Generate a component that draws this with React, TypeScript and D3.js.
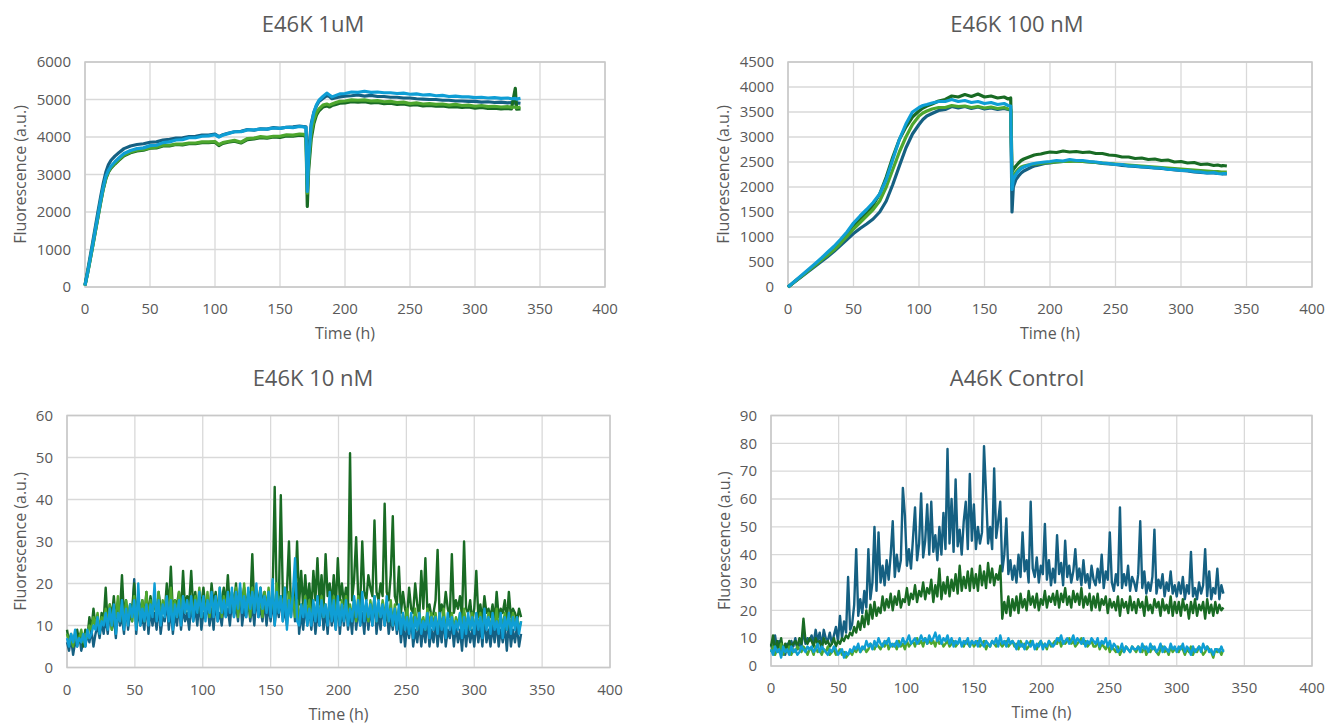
import React, { useEffect, useRef } from "react";
import * as d3 from "d3";

// Office theme colours used by the four replicate wells
const seriesColors = ["#156082", "#196B24", "#4EA72E", "#0F9ED5"];

// ---- top panels: sampled hours (denser around the fast rise and the drop) ----
const hoursTop = [
  0, 2, 4, 6, 8, 10, 12, 14, 16, 18,
  20, 23, 26, 30, 35, 40, 45, 50, 55, 60,
  65, 70, 75, 80, 85, 90, 95, 100, 103, 106,
  110, 115, 120, 125, 130, 135, 140, 145, 150, 155,
  160, 165, 168, 170, 171, 172, 174, 176, 178, 180,
  183, 186, 188, 190, 193, 196, 200, 205, 210, 215,
  220, 225, 230, 235, 240, 245, 250, 255, 260, 265,
  270, 275, 280, 285, 290, 295, 300, 305, 310, 315,
  320, 325, 328, 331, 332, 335,
];

// E46K 1uM
const uM1Well1 = [
  60, 430, 820, 1210, 1610, 2010, 2400, 2760, 3060, 3260,
  3380, 3490, 3580, 3690, 3760, 3800, 3820, 3860, 3870, 3920,
  3940, 3970, 3980, 4010, 4020, 4050, 4050, 4080, 4010, 4060,
  4100, 4140, 4150, 4200, 4180, 4220, 4210, 4250, 4230, 4260,
  4270, 4290, 4280, 4270, 2750, 3600, 4350, 4650, 4830, 4950,
  5030, 5100, 5080, 5020, 5050, 5070, 5090, 5100, 5120, 5090,
  5110, 5080, 5080, 5060, 5060, 5040, 5040, 5020, 5010, 5000,
  5000, 4980, 4980, 4960, 4960, 4950, 4950, 4930, 4940, 4920,
  4930, 4910, 4920, 4900, 4910, 4900,
];
const uM1Well2 = [
  40, 370, 730, 1100, 1480, 1860, 2240, 2600, 2880, 3060,
  3170, 3280, 3380, 3500, 3580, 3630, 3650, 3700, 3710, 3760,
  3760, 3800, 3790, 3820, 3820, 3850, 3850, 3860, 3770, 3830,
  3860, 3890, 3840, 3930, 3950, 3980, 3970, 4000, 3990, 4030,
  4020, 4050, 4040, 4010, 2150, 3100, 3950, 4350, 4580, 4700,
  4800, 4830, 4800, 4840, 4870, 4900, 4910, 4940, 4930, 4940,
  4910, 4920, 4890, 4900, 4870, 4880, 4850, 4860, 4830, 4840,
  4820, 4830, 4800, 4810, 4790, 4800, 4770, 4790, 4760, 4770,
  4750, 4760, 4750, 5300, 4740, 4750,
];
const uM1Well3 = [
  40, 370, 740, 1110, 1500, 1880, 2260, 2620, 2900, 3080,
  3190, 3300, 3400, 3520, 3600, 3650, 3670, 3710, 3730, 3780,
  3780, 3810, 3810, 3840, 3840, 3870, 3870, 3880, 3800, 3850,
  3880, 3910, 3860, 3960, 3970, 4010, 3990, 4020, 4020, 4060,
  4050, 4080, 4070, 4050, 2500, 3300, 4100, 4450, 4650, 4750,
  4850, 4880, 4850, 4880, 4920, 4950, 4960, 4990, 4980, 4990,
  4960, 4970, 4940, 4950, 4920, 4930, 4890, 4910, 4880, 4890,
  4870, 4880, 4850, 4870, 4840, 4850, 4820, 4840, 4810, 4820,
  4800, 4810, 4790, 4800, 4780, 4800,
];
const uM1Well4 = [
  40, 380, 760, 1140, 1530, 1910, 2300, 2650, 2940, 3110,
  3220, 3340, 3440, 3560, 3640, 3690, 3710, 3770, 3780, 3850,
  3870, 3920, 3930, 3980, 3980, 4020, 4030, 4060, 4000, 4050,
  4090, 4140, 4140, 4190, 4190, 4210, 4210, 4240, 4230, 4260,
  4250, 4280, 4270, 4250, 2550, 3400, 4300, 4650, 4850, 4980,
  5080, 5170, 5120, 5070, 5110, 5150, 5160, 5200, 5190, 5220,
  5190, 5200, 5180, 5180, 5160, 5170, 5140, 5150, 5120, 5130,
  5100, 5110, 5080, 5090, 5070, 5070, 5050, 5060, 5040, 5050,
  5030, 5040, 5020, 5030, 5010, 5030,
];

// E46K 100 nM
const nM100Well1 = [
  0, 40, 80, 120, 160, 200, 240, 280, 320, 360,
  400, 460, 520, 600, 710, 830, 950, 1070, 1170, 1260,
  1360, 1500, 1720, 2050, 2420, 2780, 3060, 3250, 3350, 3420,
  3470, 3530, 3550, 3610, 3580, 3610, 3570, 3600, 3560, 3580,
  3550, 3570, 3550, 3540, 1500, 2000, 2150, 2220, 2280, 2320,
  2360, 2400, 2420, 2430, 2450, 2470, 2480, 2500, 2510, 2520,
  2520, 2510, 2500, 2490, 2470, 2460, 2450, 2430, 2420, 2410,
  2400, 2390, 2380, 2370, 2360, 2340, 2330, 2320, 2300, 2290,
  2280, 2280, 2270, 2270, 2260, 2260,
];
const nM100Well2 = [
  0, 42, 85, 128, 170, 212, 255, 298, 340, 382,
  425, 490, 555, 650, 770, 910, 1050, 1210, 1350, 1490,
  1640, 1860, 2200, 2600, 2950, 3200, 3400, 3520, 3580, 3620,
  3660, 3720, 3750, 3820, 3800, 3850, 3810, 3860, 3800, 3820,
  3780, 3800, 3760, 3780, 2300, 2350, 2420, 2480, 2530, 2560,
  2590, 2620, 2640, 2650, 2660, 2680, 2700, 2690, 2720, 2700,
  2710, 2690, 2700, 2670, 2670, 2640, 2630, 2600, 2600, 2570,
  2580, 2550, 2560, 2530, 2540, 2500, 2510, 2480, 2490, 2450,
  2460, 2430, 2440, 2420, 2430, 2420,
];
const nM100Well3 = [
  0, 42, 84, 126, 168, 210, 252, 294, 336, 378,
  420, 485, 550, 630, 740, 870, 1010, 1160, 1290, 1420,
  1550, 1720, 2000, 2350, 2700, 3000, 3250, 3420, 3480, 3520,
  3560, 3590, 3590, 3630, 3610, 3620, 3590, 3610, 3580, 3600,
  3570, 3590, 3560, 3560, 2100, 2200, 2300, 2360, 2400, 2420,
  2440, 2450, 2460, 2460, 2470, 2480, 2490, 2500, 2510, 2510,
  2520, 2510, 2500, 2490, 2480, 2470, 2460, 2450, 2440, 2430,
  2420, 2410, 2400, 2390, 2380, 2370, 2360, 2350, 2340, 2330,
  2320, 2310, 2310, 2300, 2300, 2300,
];
const nM100Well4 = [
  0, 45, 90, 135, 180, 225, 270, 315, 360, 405,
  450, 520, 590, 690, 810, 950, 1100, 1280, 1420, 1550,
  1690, 1860, 2150, 2550, 2950, 3260, 3500, 3590, 3630, 3650,
  3680, 3710, 3710, 3750, 3710, 3730, 3690, 3710, 3670, 3690,
  3650, 3670, 3630, 3620, 1950, 2150, 2250, 2320, 2370, 2400,
  2430, 2460, 2470, 2480, 2490, 2500, 2510, 2530, 2520, 2550,
  2530, 2530, 2510, 2500, 2480, 2470, 2450, 2450, 2420, 2420,
  2400, 2400, 2380, 2380, 2350, 2350, 2330, 2330, 2310, 2300,
  2280, 2290, 2270, 2260, 2270, 2270,
];

// ---- bottom panels: one reading every 1.5 h, from 0 h (20 readings per row) ----
const bottomStepHours = 1.5;

// E46K 10 nM
const nM10Well1 = [
  6, 4, 7, 3, 6, 5, 8, 4, 6, 5, 8, 6, 9, 5, 8, 10, 7, 11, 8, 12,
  8, 13, 9, 12, 7, 14, 10, 12, 8, 15, 9, 13, 11, 21, 8, 14, 10, 12, 9, 16,
  8, 14, 10, 13, 9, 15, 8, 12, 11, 16, 9, 14, 8, 13, 10, 15, 9, 14, 11, 13,
  9, 15, 11, 14, 10, 16, 9, 13, 12, 15, 10, 14, 9, 16, 11, 13, 10, 15, 12, 14,
  10, 16, 12, 15, 11, 19, 10, 14, 12, 16, 11, 15, 10, 17, 12, 14, 11, 16, 10, 15,
  11, 16, 10, 15, 12, 17, 11, 14, 10, 16, 12, 18, 11, 20, 8, 13, 9, 15, 10, 14,
  9, 15, 8, 13, 10, 16, 9, 14, 8, 15, 10, 13, 9, 16, 8, 14, 10, 15, 9, 13,
  8, 16, 9, 14, 10, 13, 8, 15, 9, 14, 10, 17, 8, 13, 9, 15, 10, 14, 8, 12,
  9, 13, 8, 12, 6, 11, 5, 10, 7, 12, 5, 9, 6, 11, 5, 10, 6, 12, 5, 9,
  6, 11, 5, 10, 6, 12, 5, 9, 7, 11, 5, 10, 6, 9, 4, 11, 5, 10, 6, 9,
  5, 11, 6, 10, 5, 12, 6, 9, 5, 10, 6, 11, 5, 9, 6, 10, 4, 11, 5, 9,
  6, 10, 5, 8,
];
const nM10Well2 = [
  9, 6, 8, 5, 7, 9, 6, 8, 5, 9, 7, 12, 9, 14, 10, 12, 8, 13, 11, 19,
  10, 15, 12, 17, 11, 14, 13, 22, 12, 16, 11, 15, 14, 20, 12, 17, 13, 16, 12, 18,
  12, 17, 13, 16, 12, 18, 14, 15, 13, 20, 14, 24, 13, 16, 15, 18, 13, 23, 14, 17,
  15, 23, 14, 18, 13, 17, 15, 19, 14, 16, 13, 20, 15, 18, 14, 17, 16, 19, 15, 22,
  14, 18, 15, 20, 13, 17, 16, 19, 14, 18, 15, 27, 14, 17, 16, 19, 15, 18, 14, 17,
  13, 18, 43, 16, 15, 41, 17, 15, 18, 30, 14, 17, 16, 30, 15, 23, 14, 22, 15, 20,
  13, 23, 16, 26, 15, 22, 14, 27, 17, 20, 15, 22, 14, 26, 16, 20, 15, 19, 14, 51,
  16, 21, 31, 17, 15, 30, 18, 16, 22, 19, 17, 35, 18, 16, 20, 17, 39, 18, 16, 22,
  36, 17, 15, 24, 13, 18, 14, 12, 19, 14, 13, 20, 15, 12, 23, 14, 26, 13, 15, 12,
  13, 16, 28, 12, 15, 13, 18, 14, 12, 27, 13, 16, 14, 17, 12, 30, 14, 13, 16, 11,
  14, 23, 12, 15, 11, 17, 13, 14, 12, 15, 11, 18, 12, 14, 13, 16, 11, 18, 12, 14,
  13, 11, 14, 12,
];
const nM10Well3 = [
  8, 6, 7, 5, 8, 6, 7, 9, 6, 8, 7, 10, 9, 12, 10, 13, 9, 12, 11, 14,
  10, 15, 9, 14, 12, 17, 11, 15, 10, 16, 12, 15, 11, 17, 10, 15, 12, 16, 11, 18,
  11, 16, 13, 17, 12, 18, 11, 16, 14, 17, 12, 19, 13, 16, 12, 18, 14, 17, 13, 16,
  13, 16, 12, 17, 14, 19, 12, 16, 13, 18, 12, 17, 14, 16, 13, 19, 12, 17, 14, 18,
  14, 18, 13, 19, 12, 18, 14, 20, 13, 17, 12, 19, 14, 18, 13, 17, 12, 18, 14, 19,
  13, 18, 12, 20, 14, 17, 13, 19, 12, 18, 14, 17, 12, 16, 11, 15, 13, 17, 12, 16,
  11, 15, 12, 16, 11, 17, 12, 15, 11, 16, 12, 17, 13, 15, 11, 16, 12, 17, 11, 15,
  12, 16, 11, 17, 12, 16, 13, 15, 11, 16, 12, 17, 11, 15, 12, 16, 13, 14, 11, 16,
  10, 15, 11, 14, 9, 13, 10, 14, 9, 12, 10, 14, 9, 13, 10, 12, 9, 14, 10, 13,
  10, 13, 9, 12, 10, 14, 9, 12, 10, 13, 9, 12, 10, 13, 9, 14, 10, 12, 9, 13,
  9, 12, 10, 13, 9, 12, 10, 13, 9, 12, 10, 14, 9, 12, 10, 13, 9, 12, 10, 13,
  10, 12, 9, 11,
];
const nM10Well4 = [
  7, 5, 8, 6, 9, 5, 7, 6, 8, 5, 9, 7, 8, 10, 9, 12, 8, 11, 10, 13,
  9, 14, 10, 15, 8, 13, 11, 16, 9, 14, 10, 15, 12, 16, 9, 20, 10, 14, 11, 15,
  10, 15, 12, 20, 11, 16, 10, 15, 12, 17, 11, 16, 9, 15, 12, 16, 10, 17, 13, 16,
  12, 17, 11, 16, 13, 18, 12, 17, 11, 16, 13, 18, 12, 17, 11, 19, 13, 16, 12, 18,
  13, 19, 12, 18, 14, 20, 13, 17, 12, 19, 14, 18, 13, 20, 12, 19, 14, 17, 13, 18,
  12, 21, 10, 18, 13, 17, 11, 19, 9, 16, 12, 18, 26, 11, 10, 15, 12, 16, 10, 14,
  10, 16, 11, 17, 10, 16, 12, 15, 10, 18, 11, 16, 9, 17, 10, 15, 11, 16, 10, 14,
  11, 17, 12, 16, 10, 18, 11, 16, 12, 15, 10, 17, 11, 16, 12, 15, 10, 17, 11, 14,
  10, 14, 9, 15, 8, 13, 9, 12, 8, 13, 7, 12, 9, 13, 8, 11, 9, 13, 7, 12,
  9, 12, 8, 13, 9, 12, 7, 13, 9, 12, 8, 11, 9, 13, 7, 12, 8, 13, 9, 12,
  8, 13, 9, 12, 7, 14, 9, 12, 8, 13, 9, 11, 8, 13, 7, 12, 9, 13, 8, 12,
  9, 12, 8, 11,
];

// A46K Control
const ctrlWell1 = [
  8, 5, 11, 6, 9, 5, 7, 4, 8, 6, 9, 7, 10, 6, 8, 7, 13, 8, 10, 9,
  11, 8, 13, 9, 12, 7, 13, 10, 9, 12, 8, 11, 14, 9, 18, 10, 16, 12, 32, 13,
  15, 22, 42, 18, 24, 19, 27, 21, 42, 24, 30, 50, 27, 48, 30, 36, 29, 38, 31, 40,
  52, 32, 40, 34, 38, 64, 54, 36, 42, 35, 46, 57, 38, 44, 62, 39, 45, 58, 40, 59,
  41, 47, 38, 50, 40, 55, 42, 78, 44, 60, 41, 67, 43, 49, 40, 52, 59, 42, 69, 45,
  58, 42, 50, 44, 48, 79, 62, 44, 50, 42, 71, 46, 52, 59, 34, 40, 53, 33, 38, 31,
  36, 30, 40, 32, 48, 34, 38, 30, 59, 35, 32, 39, 30, 36, 33, 51, 31, 38, 29, 35,
  30, 47, 33, 37, 29, 45, 32, 36, 30, 34, 42, 31, 35, 29, 38, 30, 33, 28, 36, 31,
  29, 35, 30, 40, 28, 34, 31, 48, 30, 27, 33, 29, 57, 28, 33, 29, 36, 27, 32, 30,
  27, 33, 52, 28, 34, 26, 30, 27, 32, 49, 26, 31, 28, 33, 25, 30, 27, 34, 26, 29,
  25, 30, 26, 32, 24, 29, 26, 41, 25, 28, 24, 30, 26, 29, 42, 25, 34, 24, 28, 26,
  35, 24, 29, 26,
];
const ctrlWell2 = [
  7, 11, 5, 9, 6, 10, 5, 8, 6, 9, 7, 8, 9, 7, 10, 8, 17, 9, 8, 10,
  9, 7, 10, 8, 9, 6, 10, 8, 9, 7, 8, 10, 7, 9, 8, 10, 9, 11, 10, 12,
  11, 14, 12, 16, 13, 18, 14, 20, 15, 22, 17, 23, 18, 21, 19, 25, 20, 24, 21, 26,
  20, 25, 22, 27, 21, 24, 23, 28, 22, 26, 24, 29, 23, 27, 25, 30, 24, 28, 26, 31,
  23, 29, 25, 35, 24, 30, 26, 32, 25, 31, 27, 33, 26, 36, 27, 32, 28, 34, 27, 35,
  28, 33, 27, 36, 29, 34, 28, 37, 30, 35, 29, 33, 31, 36, 17, 23, 19, 25, 18, 24,
  20, 25, 19, 26, 21, 24, 20, 27, 22, 25, 21, 26, 20, 24, 22, 27, 21, 25, 23, 26,
  22, 27, 21, 26, 23, 28, 22, 25, 21, 27, 23, 26, 22, 28, 21, 25, 22, 26, 20, 25,
  21, 26, 20, 24, 22, 25, 19, 24, 21, 23, 20, 25, 18, 24, 21, 23, 19, 25, 20, 23,
  19, 24, 21, 23, 18, 25, 20, 22, 19, 24, 21, 23, 18, 24, 20, 22, 19, 25, 18, 23,
  19, 23, 18, 24, 20, 22, 17, 23, 19, 24, 18, 22, 20, 23, 17, 24, 19, 22, 18, 23,
  19, 22, 20, 21,
];
const ctrlWell3 = [
  5, 7, 4, 6, 5, 8, 4, 6, 5, 7, 4, 6, 5, 7, 6, 5, 7, 6, 4, 6,
  6, 4, 7, 5, 6, 4, 6, 5, 7, 4, 5, 6, 4, 5, 6, 4, 5, 3, 4, 5,
  4, 6, 5, 7, 5, 6, 7, 5, 6, 8, 7, 6, 8, 7, 6, 8, 7, 9, 6, 8,
  7, 8, 6, 9, 7, 8, 6, 9, 7, 8, 9, 7, 10, 8, 9, 7, 10, 8, 9, 8,
  9, 7, 10, 8, 9, 7, 8, 9, 7, 8, 9, 7, 8, 9, 8, 7, 9, 8, 7, 9,
  7, 8, 9, 7, 8, 9, 6, 8, 7, 9, 8, 7, 9, 8, 7, 8, 9, 7, 8, 9,
  7, 8, 6, 9, 7, 8, 6, 7, 9, 8, 7, 6, 8, 9, 7, 8, 6, 9, 7, 8,
  9, 8, 10, 7, 9, 8, 9, 10, 8, 9, 7, 8, 9, 10, 8, 9, 7, 8, 9, 7,
  7, 9, 6, 8, 7, 6, 8, 5, 7, 6, 5, 7, 4, 6, 5, 7, 6, 5, 7, 6,
  5, 7, 6, 5, 7, 4, 6, 5, 7, 6, 5, 4, 6, 7, 5, 6, 4, 7, 5, 6,
  6, 5, 7, 6, 4, 6, 5, 7, 4, 6, 5, 7, 6, 4, 5, 7, 6, 5, 3, 6,
  5, 6, 4, 6,
];
const ctrlWell4 = [
  6, 4, 7, 5, 6, 3, 7, 5, 6, 4, 7, 5, 6, 4, 5, 7, 6, 5, 7, 6,
  7, 5, 6, 8, 5, 7, 6, 5, 4, 6, 5, 7, 6, 4, 5, 6, 3, 5, 4, 6,
  5, 7, 6, 8, 5, 7, 6, 9, 7, 8, 6, 9, 7, 10, 8, 7, 9, 8, 10, 7,
  8, 7, 9, 7, 8, 10, 8, 9, 11, 8, 9, 10, 8, 9, 11, 9, 10, 8, 11, 9,
  10, 12, 9, 11, 8, 10, 9, 11, 8, 10, 7, 9, 8, 10, 7, 9, 8, 10, 7, 9,
  8, 9, 7, 10, 8, 7, 9, 8, 7, 9, 8, 10, 7, 11, 8, 9, 7, 10, 8, 9,
  8, 6, 9, 7, 8, 6, 9, 8, 7, 9, 6, 8, 7, 9, 6, 8, 7, 9, 8, 7,
  8, 10, 9, 11, 8, 9, 10, 8, 9, 11, 8, 10, 9, 8, 10, 7, 9, 8, 10, 9,
  8, 10, 7, 9, 8, 10, 7, 9, 6, 8, 7, 5, 6, 8, 5, 7, 6, 5, 7, 6,
  6, 7, 5, 8, 6, 7, 5, 8, 6, 7, 5, 6, 8, 5, 7, 6, 5, 8, 6, 7,
  5, 7, 6, 8, 5, 7, 6, 4, 7, 5, 6, 7, 5, 8, 6, 7, 5, 6, 4, 6,
  6, 5, 7, 5,
];

const hoursBottom = nM10Well1.map((_, i) => i * bottomStepHours);

const panels = [
  {
    title: "E46K 1uM", titleX: 313, titleY: 32,
    left: 85, right: 605, top: 62, bottom: 287,
    yMax: 6000, yStep: 1000, yTitleX: 26, lineWidth: 3.2,
    hours: hoursTop,
    wells: [uM1Well1, uM1Well2, uM1Well3, uM1Well4],
  },
  {
    title: "E46K 100 nM", titleX: 1017, titleY: 32,
    left: 788, right: 1312, top: 62, bottom: 287,
    yMax: 4500, yStep: 500, yTitleX: 729, lineWidth: 3.2,
    hours: hoursTop,
    wells: [nM100Well1, nM100Well2, nM100Well3, nM100Well4],
  },
  {
    title: "E46K 10 nM", titleX: 313, titleY: 386,
    left: 67, right: 610, top: 415.5, bottom: 667.5,
    yMax: 60, yStep: 10, yTitleX: 26, lineWidth: 2.4,
    hours: hoursBottom,
    wells: [nM10Well1, nM10Well2, nM10Well3, nM10Well4],
  },
  {
    title: "A46K Control", titleX: 1017, titleY: 386,
    left: 771, right: 1312, top: 415.5, bottom: 666,
    yMax: 90, yStep: 10, yTitleX: 730, lineWidth: 2.4,
    hours: hoursBottom,
    wells: [ctrlWell1, ctrlWell2, ctrlWell3, ctrlWell4],
  },
];

const textColor = "#595959";
const font = "'Open Sans', 'DejaVu Sans', sans-serif";

function drawPanel(svg: any, p: any) {
  const x = d3.scaleLinear().domain([0, 400]).range([p.left, p.right]);
  const y = d3.scaleLinear().domain([0, p.yMax]).range([p.bottom, p.top]);
  const yTicks = d3.range(0, p.yMax + p.yStep / 2, p.yStep);
  const xTicks = d3.range(0, 401, 50);

  const g = svg.append("g");

  // gridlines
  g.selectAll(".hgrid").data(yTicks).enter().append("line")
    .attr("x1", p.left).attr("x2", p.right)
    .attr("y1", (d: number) => y(d)).attr("y2", (d: number) => y(d))
    .attr("stroke", "#d9d9d9").attr("stroke-width", 1.3);
  g.selectAll(".vgrid").data(xTicks).enter().append("line")
    .attr("y1", p.top).attr("y2", p.bottom)
    .attr("x1", (d: number) => x(d)).attr("x2", (d: number) => x(d))
    .attr("stroke", "#d9d9d9").attr("stroke-width", 1.3);

  g.append("rect")
    .attr("x", p.left).attr("y", p.top)
    .attr("width", p.right - p.left).attr("height", p.bottom - p.top)
    .attr("fill", "none").attr("stroke", "#c8c8c8").attr("stroke-width", 1.5);

  // series
  p.wells.forEach((vals: number[], i: number) => {
    const line = d3.line<number>()
      .x((_, j) => x(p.hours[j]))
      .y((d) => y(d));
    g.append("path")
      .datum(vals)
      .attr("d", line)
      .attr("fill", "none")
      .attr("stroke", seriesColors[i])
      .attr("stroke-width", p.lineWidth)
      .attr("stroke-linejoin", "round");
  });

  // tick labels
  g.selectAll(".ylab").data(yTicks).enter().append("text")
    .attr("x", p.left - 14).attr("y", (d: number) => y(d))
    .attr("dy", "0.35em").attr("text-anchor", "end")
    .attr("fill", textColor).style("font-size", "15px").style("font-family", font)
    .text((d: number) => d);
  g.selectAll(".xlab").data(xTicks).enter().append("text")
    .attr("x", (d: number) => x(d)).attr("y", p.bottom + 27)
    .attr("text-anchor", "middle")
    .attr("fill", textColor).style("font-size", "15px").style("font-family", font)
    .text((d: number) => d);

  // axis titles
  g.append("text")
    .attr("x", (p.left + p.right) / 2).attr("y", p.bottom + 52)
    .attr("text-anchor", "middle")
    .attr("fill", textColor).style("font-size", "16px").style("font-family", font)
    .text("Time (h)");
  g.append("text")
    .attr("transform", `translate(${p.yTitleX}, ${(p.top + p.bottom) / 2}) rotate(-90)`)
    .attr("text-anchor", "middle")
    .attr("fill", textColor).style("font-size", "16px").style("font-family", font)
    .text("Fluorescence (a.u.)");

  // chart title
  g.append("text")
    .attr("x", p.titleX).attr("y", p.titleY)
    .attr("text-anchor", "middle")
    .attr("fill", textColor).style("font-size", "22px").style("font-family", font)
    .text(p.title);
}

export default function App() {
  const svgRef = useRef<SVGSVGElement>(null);

  useEffect(() => {
    const svg = d3.select(svgRef.current);
    svg.selectAll("*").remove();
    svg.append("rect").attr("width", 1329).attr("height", 725).attr("fill", "#ffffff");
    panels.forEach((p) => drawPanel(svg, p));
  }, []);

  return (
    <svg
      ref={svgRef}
      width={1329}
      height={725}
      style={{ position: "absolute", left: 0, top: 0 }}
    />
  );
}
